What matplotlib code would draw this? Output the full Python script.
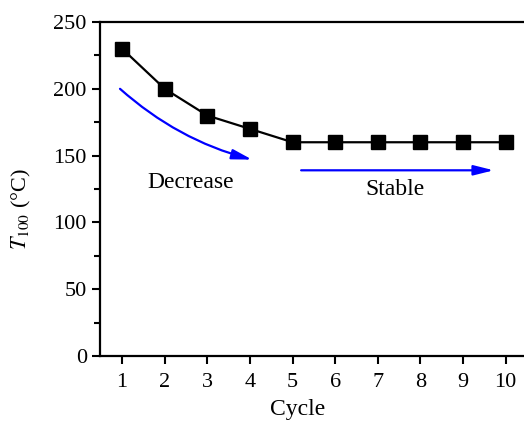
import matplotlib.pyplot as plt
import numpy as np
from matplotlib.patches import FancyArrowPatch
from matplotlib.ticker import MultipleLocator

plt.rcParams['font.family'] = ['Liberation Serif', 'DejaVu Serif']
plt.rcParams['mathtext.fontset'] = 'stix'

cycle = [1, 2, 3, 4, 5, 6, 7, 8, 9, 10]
t100 = [230, 200, 180, 170, 160, 160, 160, 160, 160, 160]

fig = plt.figure(figsize=(5.24, 4.21), dpi=100)
ax = fig.add_axes([0.1908, 0.1544, 0.8149, 0.7933])

ax.plot(cycle, t100, color='black', lw=1.6, marker='s', markersize=10)

# trend arrows
head = '-|>,head_length=12,head_width=3'
decrease = FancyArrowPatch((0.95, 200), (4.05, 147), connectionstyle='arc3,rad=0.12',
                           arrowstyle=head, color='blue', lw=1.6, shrinkA=0, shrinkB=0)
ax.add_patch(decrease)
stable = FancyArrowPatch((5.2, 139), (9.72, 139), arrowstyle=head,
                         color='blue', lw=1.6, shrinkA=0, shrinkB=0)
ax.add_patch(stable)
ax.text(2.6, 130, 'Decrease', fontsize=17, ha='center', va='center')
ax.text(7.4, 125, 'Stable', fontsize=17, ha='center', va='center')

ax.set_xlim(0.48, 10.5)
ax.set_ylim(0, 250)
ax.set_xticks(cycle)
ax.yaxis.set_major_locator(MultipleLocator(50))
ax.yaxis.set_minor_locator(MultipleLocator(25))
ax.tick_params(direction='out', width=1.5, length=6, labelsize=16)
ax.tick_params(axis='x', pad=6)
ax.tick_params(which='minor', direction='out', width=1.5, length=4)
ax.spines['right'].set_visible(False)
for s in ['left', 'bottom', 'top']:
    ax.spines[s].set_linewidth(1.6)

ax.set_xlabel('Cycle', fontsize=17)
ax.xaxis.set_label_coords(0.462, -0.13)
ax.set_ylabel(r'$T_{100}$ (°C)', fontsize=16)
ax.yaxis.set_label_coords(-0.156, 0.44)

fig.savefig('out.png', dpi=100)
